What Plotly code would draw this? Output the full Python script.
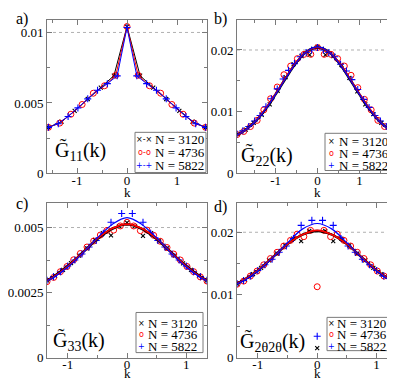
import plotly.graph_objects as go

# ---------------- data ----------------
SERIES = ["N = 3120", "N = 4736", "N = 5822"]

# panel a  (G11)
A_K_3120 = [-1.571, -1.309, -1.047, -0.785, -0.524, -0.262, 0.0, 0.262, 0.524, 0.785, 1.047, 1.309, 1.571]
A_G_3120 = [0.00327, 0.00368, 0.00443, 0.00528, 0.00608, 0.00693, 0.01042, 0.00693, 0.00608, 0.00528, 0.00443, 0.00368, 0.00327]
A_K_4736 = [-1.571, -1.346, -1.122, -0.898, -0.673, -0.449, -0.224, 0.0, 0.224, 0.449, 0.673, 0.898, 1.122, 1.346, 1.571]
A_G_4736 = [0.00327, 0.00357, 0.00420, 0.00489, 0.00569, 0.00622, 0.00696, 0.01042, 0.00696, 0.00622, 0.00569, 0.00489, 0.00420, 0.00357, 0.00327]
A_K_5822 = [-1.571, -1.374, -1.178, -0.982, -0.785, -0.589, -0.393, -0.196, 0.0, 0.196, 0.393, 0.589, 0.785, 0.982, 1.178, 1.374, 1.571]
A_G_5822 = [0.00327, 0.00353, 0.00404, 0.00465, 0.00529, 0.00590, 0.00637, 0.00692, 0.01035, 0.00692, 0.00637, 0.00590, 0.00529, 0.00465, 0.00404, 0.00353, 0.00327]

# panel b  (G22)
B_K_3120 = [-1.9, -1.71, -1.52, -1.33, -1.14, -0.95, -0.76, -0.57, -0.38, -0.19, 0.0, 0.19, 0.38, 0.57, 0.76, 0.95, 1.14, 1.33, 1.52, 1.71, 1.9]
B_G_3120 = [0.0064, 0.0071, 0.0082, 0.0095, 0.0112, 0.0134, 0.0156, 0.0177, 0.0190, 0.0192, 0.0205, 0.0192, 0.0190, 0.0176, 0.0155, 0.0133, 0.0112, 0.0096, 0.0082, 0.0071, 0.0064]
B_K_4736 = [-1.92, -1.76, -1.6, -1.44, -1.28, -1.12, -0.96, -0.8, -0.64, -0.48, -0.32, -0.16, 0.0, 0.16, 0.32, 0.48, 0.64, 0.8, 0.96, 1.12, 1.28, 1.44, 1.6, 1.76, 1.92]
B_G_4736 = [0.0063, 0.0068, 0.0076, 0.0086, 0.0103, 0.0121, 0.0140, 0.0160, 0.0174, 0.0186, 0.0193, 0.0193, 0.0204, 0.0193, 0.0193, 0.0186, 0.0174, 0.0159, 0.0139, 0.0120, 0.0103, 0.0086, 0.0076, 0.0068, 0.0063]
B_K_5822 = [-1.92, -1.78, -1.64, -1.5, -1.37, -1.23, -1.1, -0.96, -0.82, -0.69, -0.55, -0.41, -0.27, -0.14, 0.0, 0.14, 0.27, 0.41, 0.55, 0.69, 0.82, 0.96, 1.1, 1.23, 1.37, 1.5, 1.64, 1.78, 1.92]
B_G_5822 = [0.0064, 0.0069, 0.0076, 0.0085, 0.0094, 0.0108, 0.0121, 0.0137, 0.0153, 0.0167, 0.0178, 0.0189, 0.0196, 0.0200, 0.0204, 0.0200, 0.0196, 0.0189, 0.0177, 0.0166, 0.0152, 0.0136, 0.0120, 0.0107, 0.0094, 0.0085, 0.0076, 0.0069, 0.0064]
B_K_FIT = [-1.92, -1.75, -1.5, -1.25, -1.0, -0.75, -0.5, -0.25, 0.0, 0.25, 0.5, 0.75, 1.0, 1.25, 1.5, 1.75, 1.92]
B_FIT_3120 = [0.0062, 0.0069, 0.0083, 0.0103, 0.0128, 0.0155, 0.0180, 0.0198, 0.0204, 0.0198, 0.0180, 0.0155, 0.0128, 0.0103, 0.0083, 0.0069, 0.0062]
B_FIT_4736 = [0.0062, 0.0069, 0.0083, 0.0104, 0.0129, 0.0156, 0.0181, 0.0198, 0.0204, 0.0198, 0.0181, 0.0156, 0.0129, 0.0104, 0.0083, 0.0069, 0.0062]
B_FIT_5822 = [0.0062, 0.0069, 0.0083, 0.0103, 0.0128, 0.0155, 0.0180, 0.0198, 0.0205, 0.0198, 0.0180, 0.0155, 0.0128, 0.0103, 0.0083, 0.0069, 0.0062]

# panel c  (G33)
C_K_3120 = [-1.35, -1.215, -1.08, -0.945, -0.81, -0.675, -0.54, -0.405, -0.27, -0.135, 0.0, 0.135, 0.27, 0.405, 0.54, 0.675, 0.81, 0.945, 1.08, 1.215, 1.35]
C_G_3120 = [0.00297, 0.00315, 0.00337, 0.00363, 0.00392, 0.00420, 0.00452, 0.00478, 0.00470, 0.00505, 0.00519, 0.00505, 0.00468, 0.00478, 0.00450, 0.00420, 0.00392, 0.00362, 0.00337, 0.00315, 0.00297]
C_K_4736 = [-1.35, -1.2375, -1.125, -1.0125, -0.9, -0.7875, -0.675, -0.5625, -0.45, -0.3375, -0.225, -0.1125, 0.0, 0.1125, 0.225, 0.3375, 0.45, 0.5625, 0.675, 0.7875, 0.9, 1.0125, 1.125, 1.2375, 1.35]
C_G_4736 = [0.00292, 0.00308, 0.00330, 0.00350, 0.00376, 0.00400, 0.00425, 0.00448, 0.00471, 0.00489, 0.00490, 0.00506, 0.00520, 0.00506, 0.00488, 0.00490, 0.00470, 0.00447, 0.00423, 0.00398, 0.00375, 0.00350, 0.00330, 0.00310, 0.00294]
C_K_5822 = [-1.35, -1.24, -1.12, -1.0, -0.88, -0.76, -0.64, -0.52, -0.4, -0.27, -0.09, 0.09, 0.27, 0.4, 0.52, 0.64, 0.76, 0.88, 1.0, 1.12, 1.24, 1.35]
C_G_5822 = [0.00297, 0.00311, 0.00330, 0.00352, 0.00375, 0.00398, 0.00425, 0.00450, 0.00478, 0.00520, 0.00554, 0.00554, 0.00520, 0.00478, 0.00450, 0.00425, 0.00398, 0.00375, 0.00352, 0.00330, 0.00311, 0.00297]
C_K_FIT = [-1.35, -1.25, -1.0, -0.75, -0.5, -0.25, 0.0, 0.25, 0.5, 0.75, 1.0, 1.25, 1.35]
C_FIT_3120 = [0.00297, 0.00310, 0.00352, 0.00403, 0.00456, 0.00495, 0.00512, 0.00495, 0.00456, 0.00403, 0.00352, 0.00310, 0.00297]
C_FIT_4736 = [0.00296, 0.00309, 0.00351, 0.00403, 0.00457, 0.00496, 0.00513, 0.00496, 0.00457, 0.00403, 0.00351, 0.00309, 0.00296]
C_FIT_5822 = [0.00296, 0.00307, 0.00348, 0.00401, 0.00460, 0.00512, 0.00538, 0.00512, 0.00460, 0.00401, 0.00348, 0.00307, 0.00296]

# panel d  (G2θ2θ)
D_K_3120 = [-1.35, -1.215, -1.08, -0.945, -0.81, -0.675, -0.54, -0.405, -0.27, -0.135, 0.0, 0.135, 0.27, 0.405, 0.54, 0.675, 0.81, 0.945, 1.08, 1.215, 1.35]
D_G_3120 = [0.0118, 0.0124, 0.0133, 0.0143, 0.0155, 0.0166, 0.0179, 0.0190, 0.0186, 0.0202, 0.0015, 0.0202, 0.0186, 0.0190, 0.0179, 0.0166, 0.0155, 0.0143, 0.0133, 0.0124, 0.0118]
D_K_4736 = [-1.35, -1.2375, -1.125, -1.0125, -0.9, -0.7875, -0.675, -0.5625, -0.45, -0.3375, -0.225, -0.1125, 0.0, 0.1125, 0.225, 0.3375, 0.45, 0.5625, 0.675, 0.7875, 0.9, 1.0125, 1.125, 1.2375, 1.35]
D_G_4736 = [0.0117, 0.0122, 0.0130, 0.0138, 0.0148, 0.0158, 0.0168, 0.0178, 0.0187, 0.0197, 0.0193, 0.0203, 0.0113, 0.0203, 0.0193, 0.0197, 0.0187, 0.0178, 0.0168, 0.0158, 0.0148, 0.0138, 0.0130, 0.0122, 0.0117]
D_K_5822 = [-1.35, -1.24, -1.12, -1.0, -0.88, -0.76, -0.64, -0.52, -0.4, -0.27, -0.09, 0.0, 0.09, 0.27, 0.4, 0.52, 0.64, 0.76, 0.88, 1.0, 1.12, 1.24, 1.35]
D_G_5822 = [0.0118, 0.0123, 0.0130, 0.0139, 0.0148, 0.0157, 0.0168, 0.0178, 0.0190, 0.0211, 0.0219, 0.0034, 0.0219, 0.0211, 0.0190, 0.0178, 0.0168, 0.0157, 0.0148, 0.0139, 0.0130, 0.0123, 0.0118]
D_K_FIT = [-1.35, -1.25, -1.0, -0.75, -0.5, -0.25, 0.0, 0.25, 0.5, 0.75, 1.0, 1.25, 1.35]
D_FIT_3120 = [0.0118, 0.0123, 0.0139, 0.0160, 0.0181, 0.0196, 0.0202, 0.0196, 0.0181, 0.0160, 0.0139, 0.0123, 0.0118]
D_FIT_4736 = [0.0118, 0.0123, 0.0139, 0.0160, 0.0181, 0.0196, 0.0203, 0.0196, 0.0181, 0.0160, 0.0139, 0.0123, 0.0118]
D_FIT_5822 = [0.0118, 0.0122, 0.0138, 0.0159, 0.0183, 0.0205, 0.0214, 0.0205, 0.0183, 0.0159, 0.0138, 0.0122, 0.0118]

# axis ticks
A_YTICKS = [0, 0.005, 0.01];    A_YTEXT = ["0", "0.005", "0.01"]
B_YTICKS = [0, 0.01, 0.02];     B_YTEXT = ["0", "0.01", "0.02"]
C_YTICKS = [0, 0.0025, 0.005];  C_YTEXT = ["0", "0.0025", "0.005"]
D_YTICKS = [0, 0.01, 0.02];     D_YTEXT = ["0", "0.01", "0.02"]
XTICKS = [-1, 0, 1];            XTEXT = ["-1", "0", "1"]
XLABEL = "k"

# ---------------- figure ----------------
W, H = 395, 381
SERIF = "Liberation Serif"
COLORS = ["#000000", "#ff0000", "#0000ff"]
FRAME = "#7a7a7a"

def fx(p):
    return p / W

def fy(p):
    return 1 - p / H

fig = go.Figure()

def marker(i):
    if i == 0:
        return dict(symbol="x-thin", size=4, color=COLORS[0], line=dict(width=1.1, color=COLORS[0]))
    if i == 1:
        return dict(symbol="circle-open", size=6, color=COLORS[1], line=dict(width=1, color=COLORS[1]))
    return dict(symbol="cross-thin", size=5, color=COLORS[2], line=dict(width=1.1, color=COLORS[2]))

# panel a : lines + markers
for i, (k, g) in enumerate([(A_K_3120, A_G_3120), (A_K_4736, A_G_4736), (A_K_5822, A_G_5822)]):
    fig.add_trace(go.Scatter(x=k, y=g, mode="lines+markers", name=SERIES[i], showlegend=False,
                             line=dict(color=COLORS[i], width=1), marker=marker(i),
                             xaxis="x", yaxis="y"))

def scatter_panel(ax, ay, pts, kfit, fits):
    for i, (k, g) in enumerate(pts):
        fig.add_trace(go.Scatter(x=k, y=g, mode="markers", name=SERIES[i], showlegend=False,
                                 marker=marker(i), xaxis=ax, yaxis=ay, cliponaxis=True))
    widths = [2.4, 1.6, 1.2]
    for i, f in enumerate(fits):
        fig.add_trace(go.Scatter(x=kfit, y=f, mode="lines", showlegend=False,
                                 line=dict(color=COLORS[i], width=widths[i], shape="spline", smoothing=1.0),
                                 xaxis=ax, yaxis=ay))

scatter_panel("x2", "y2", [(B_K_3120, B_G_3120), (B_K_4736, B_G_4736), (B_K_5822, B_G_5822)],
              B_K_FIT, [B_FIT_3120, B_FIT_4736, B_FIT_5822])
scatter_panel("x3", "y3", [(C_K_3120, C_G_3120), (C_K_4736, C_G_4736), (C_K_5822, C_G_5822)],
              C_K_FIT, [C_FIT_3120, C_FIT_4736, C_FIT_5822])
scatter_panel("x4", "y4", [(D_K_3120, D_G_3120), (D_K_4736, D_G_4736), (D_K_5822, D_G_5822)],
              D_K_FIT, [D_FIT_3120, D_FIT_4736, D_FIT_5822])

def xaxis(dom, rng, anchor):
    return dict(domain=[fx(dom[0]), fx(dom[1])], range=rng, anchor=anchor,
                tickvals=XTICKS, ticktext=XTEXT, ticks="inside", ticklen=5, tickcolor=FRAME,
                minor=dict(dtick=0.5, tick0=0, ticks="inside", ticklen=3, tickcolor=FRAME),
                showline=True, linecolor=FRAME, linewidth=1, mirror="ticks",
                showgrid=False, zeroline=False, ticklabelstandoff=-5,
                tickfont=dict(family=SERIF, size=13, color="black"))

def yaxis(dom, rng, anchor, tv, tt, minor):
    return dict(domain=[fy(dom[1]), fy(dom[0])], range=rng, anchor=anchor,
                tickvals=tv, ticktext=tt, ticks="inside", ticklen=5, tickcolor=FRAME,
                minor=dict(dtick=minor, tick0=0, ticks="inside", ticklen=3, tickcolor=FRAME),
                showline=True, linecolor=FRAME, linewidth=1, mirror="ticks",
                showgrid=False, zeroline=False,
                tickfont=dict(family=SERIF, size=13, color="black"))

LX = (39, 199)
RX = (229, 390)
TY = (12, 169)
BY = (199, 357)

fig.update_layout(
    width=W, height=H, margin=dict(l=0, r=0, t=0, b=0),
    paper_bgcolor="white", plot_bgcolor="white", showlegend=False,
    font=dict(family=SERIF),
    xaxis=xaxis(LX, [-1.6, 1.6], "y"),
    yaxis=yaxis(TY, [0, 0.0109], "x", A_YTICKS, A_YTEXT, 0.0025),
    xaxis2=xaxis(RX, [-1.92, 1.92], "y2"),
    yaxis2=yaxis(TY, [0, 0.0249], "x2", B_YTICKS, B_YTEXT, 0.005),
    xaxis3=xaxis(LX, [-1.35, 1.35], "y3"),
    yaxis3=yaxis(BY, [0, 0.00595], "x3", C_YTICKS, C_YTEXT, 0.00125),
    xaxis4=xaxis(RX, [-1.35, 1.36], "y4"),
    yaxis4=yaxis(BY, [0, 0.0247], "x4", D_YTICKS, D_YTEXT, 0.005),
)

# x-axis titles "k"
for ax, y in [("x", 188), ("x2", 188), ("x3", 373), ("x4", 373)]:
    fig.add_annotation(text=XLABEL, x=0, xref=ax, y=fy(y), yref="paper", showarrow=False,
                       xanchor="center", yanchor="middle", borderpad=0,
                       font=dict(family=SERIF, size=13, color="black"))

# dotted reference lines
for ax, ay, val in [("x", "y", 0.01), ("x2", "y2", 0.02), ("x3", "y3", 0.005), ("x4", "y4", 0.02)]:
    fig.add_shape(type="line", xref=ax + " domain", yref=ay, x0=0, x1=1, y0=val, y1=val,
                  line=dict(color="#b0b0b0", width=1, dash="dot"), layer="below")

# panel letters
for txt, x, y in [("a)", 14, 11), ("b)", 212, 11), ("c)", 14, 200), ("d)", 212, 203)]:
    fig.add_annotation(text=txt, x=fx(x), y=fy(y), xref="paper", yref="paper", showarrow=False,
                       xanchor="center", yanchor="middle", font=dict(family=SERIF, size=16, color="black"))

# function labels
for txt, x, y in [("G\u0303<sub>11</sub>(k)", 45, 146), ("G\u0303<sub>22</sub>(k)", 231, 151),
                  ("G\u0303<sub>33</sub>(k)", 43, 340), ("G\u0303<sub>2\u03b82\u03b8</sub>(k)", 230, 341)]:
    fig.add_annotation(text=txt, x=fx(x), y=fy(y), xref="paper", yref="paper", showarrow=False,
                       xanchor="left", yanchor="middle", font=dict(family=SERIF, size=20, color="black"))

# legends (boxes with text entries)
SYM_LINE = ["\u00d7-\u00d7", "o-o", "+-+"]
SYM_PT = ["\u00d7", "o", "+"]
legends = [
    dict(box=(127, 127, 198, 168), rows=(134, 148, 161), sx=136, tx=146, syms=SYM_LINE),
    dict(box=(317, 128, 382, 166), rows=(136, 149, 161), sx=323, tx=330, syms=SYM_PT),
    dict(box=(128, 311, 195, 352), rows=(322, 334, 346), sx=133, tx=139, syms=SYM_PT),
    dict(box=(319, 316, 384, 350), rows=(322, 334, 346), sx=323, tx=328, syms=SYM_PT),
]
for lg in legends:
    x0, y0, x1, y1 = lg["box"]
    fig.add_shape(type="rect", xref="paper", yref="paper", x0=fx(x0), x1=fx(x1), y0=fy(y1), y1=fy(y0),
                  line=dict(color=FRAME, width=1), fillcolor="white", layer="above")
    for i, ry in enumerate(lg["rows"]):
        fig.add_annotation(text=lg["syms"][i], x=fx(lg["sx"]), y=fy(ry), xref="paper", yref="paper",
                           showarrow=False, xanchor="center", yanchor="middle", borderpad=0,
                           font=dict(family="DejaVu Sans", size=8, color=COLORS[i]))
        fig.add_annotation(text=SERIES[i], x=fx(lg["tx"]), y=fy(ry), xref="paper", yref="paper",
                           showarrow=False, xanchor="left", yanchor="middle", borderpad=0,
                           font=dict(family=SERIF, size=13, color="black"))

fig.write_html("out.html")
